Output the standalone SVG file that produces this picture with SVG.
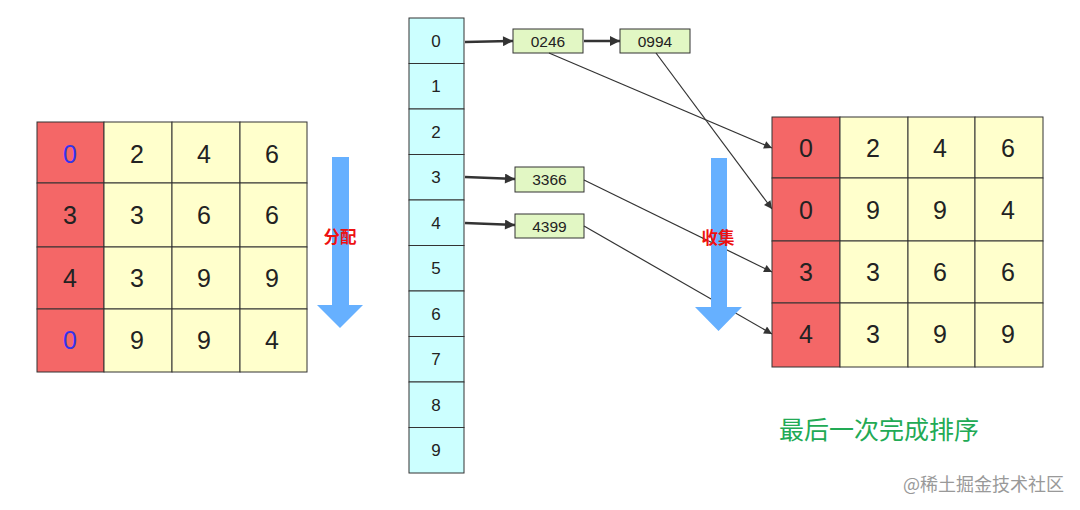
<svg xmlns="http://www.w3.org/2000/svg" width="1080" height="510" viewBox="0 0 1080 510">
<style>
.r{fill:#f46767;stroke:#333;stroke-width:1}
.y{fill:#ffffcc;stroke:#333;stroke-width:1}
.c{fill:#ccffff;stroke:#333;stroke-width:1}
.g{fill:#e2f7c4;stroke:#333;stroke-width:1}
.d{font-family:"Liberation Sans",Arial,sans-serif;font-size:25px;fill:#222;text-anchor:middle;dominant-baseline:central}
.b{font-family:"Liberation Sans",Arial,sans-serif;font-size:17px;fill:#222;text-anchor:middle;dominant-baseline:central}
.s{font-family:"Liberation Sans",Arial,sans-serif;font-size:15.5px;fill:#222;text-anchor:middle;dominant-baseline:central}
.blue{fill:#3333ee}
.lbl{font-family:"Noto Sans CJK SC",sans-serif;font-size:16.5px;font-weight:bold;fill:#ee1111;text-anchor:middle;dominant-baseline:central}
.ln{stroke:#333;stroke-width:1.2;fill:none}
.th{stroke:#333;stroke-width:2.5;fill:none}
</style>
<defs>
<marker id="ahb" viewBox="0 0 10 10" refX="10" refY="5" markerWidth="16" markerHeight="10" markerUnits="userSpaceOnUse" orient="auto"><path d="M0,0 L10,5 L0,10 z" fill="#333"/></marker>
<marker id="ahs" viewBox="0 0 10 10" refX="10" refY="5" markerWidth="12" markerHeight="8" markerUnits="userSpaceOnUse" orient="auto"><path d="M0,0 L10,5 L0,10 z" fill="#333"/></marker>
</defs>
<rect width="1080" height="510" fill="#fff"/>

<g id="left-grid">
<rect class="r" x="37" y="122" width="67" height="61"/><rect class="y" x="104" y="122" width="68" height="61"/><rect class="y" x="172" y="122" width="68" height="61"/><rect class="y" x="240" y="122" width="67" height="61"/>
<rect class="r" x="37" y="183" width="67" height="64"/><rect class="y" x="104" y="183" width="68" height="64"/><rect class="y" x="172" y="183" width="68" height="64"/><rect class="y" x="240" y="183" width="67" height="64"/>
<rect class="r" x="37" y="247" width="67" height="62"/><rect class="y" x="104" y="247" width="68" height="62"/><rect class="y" x="172" y="247" width="68" height="62"/><rect class="y" x="240" y="247" width="67" height="62"/>
<rect class="r" x="37" y="309" width="67" height="63"/><rect class="y" x="104" y="309" width="68" height="63"/><rect class="y" x="172" y="309" width="68" height="63"/><rect class="y" x="240" y="309" width="67" height="63"/>
<text class="d blue" x="70" y="154">0</text><text class="d" x="137" y="154">2</text><text class="d" x="204" y="154">4</text><text class="d" x="272" y="154">6</text>
<text class="d" x="70" y="215">3</text><text class="d" x="137" y="215">3</text><text class="d" x="204" y="215">6</text><text class="d" x="272" y="215">6</text>
<text class="d" x="70" y="278">4</text><text class="d" x="137" y="278">3</text><text class="d" x="204" y="278">9</text><text class="d" x="272" y="278">9</text>
<text class="d blue" x="70" y="340">0</text><text class="d" x="137" y="340">9</text><text class="d" x="204" y="340">9</text><text class="d" x="272" y="340">4</text>
</g>

<g id="arrow-distribute">
<path d="M332,157 H349 V305 H363 L340,328 L317,305 H332 Z" fill="#66b0ff"/>
<text class="lbl" x="340" y="236">分配</text>
</g>

<g id="buckets">
<rect class="c" x="409" y="18" width="55" height="45.5"/>
<rect class="c" x="409" y="63.5" width="55" height="45.5"/>
<rect class="c" x="409" y="109" width="55" height="45.5"/>
<rect class="c" x="409" y="154.5" width="55" height="45.5"/>
<rect class="c" x="409" y="200" width="55" height="45.5"/>
<rect class="c" x="409" y="245.5" width="55" height="45.5"/>
<rect class="c" x="409" y="291" width="55" height="45.5"/>
<rect class="c" x="409" y="336.5" width="55" height="45.5"/>
<rect class="c" x="409" y="382" width="55" height="45.5"/>
<rect class="c" x="409" y="427.5" width="55" height="45.5"/>
<text class="b" x="436" y="41">0</text>
<text class="b" x="436" y="86">1</text>
<text class="b" x="436" y="132">2</text>
<text class="b" x="436" y="177">3</text>
<text class="b" x="436" y="223">4</text>
<text class="b" x="436" y="268">5</text>
<text class="b" x="436" y="314">6</text>
<text class="b" x="436" y="359">7</text>
<text class="b" x="436" y="405">8</text>
<text class="b" x="436" y="450">9</text>
</g>

<g id="box-0246"><rect class="g" x="513" y="29" width="70" height="24"/><text class="s" x="548" y="41">0246</text></g>
<g id="box-0994"><rect class="g" x="620" y="29" width="70" height="24"/><text class="s" x="655" y="41">0994</text></g>
<g id="box-3366"><rect class="g" x="515" y="167" width="69" height="25"/><text class="s" x="549.5" y="179.5">3366</text></g>
<g id="box-4399"><rect class="g" x="515" y="214" width="69" height="24"/><text class="s" x="549.5" y="226">4399</text></g>

<g id="connectors">
<line class="th" x1="465" y1="42" x2="513" y2="41" marker-end="url(#ahb)"/>
<line class="th" x1="584" y1="41" x2="620" y2="41" marker-end="url(#ahb)"/>
<line class="th" x1="465" y1="177" x2="515" y2="179" marker-end="url(#ahb)"/>
<line class="th" x1="465" y1="223" x2="515" y2="225" marker-end="url(#ahb)"/>
<line class="ln" x1="549" y1="53" x2="772" y2="148" marker-end="url(#ahs)"/>
<line class="ln" x1="656" y1="53" x2="772" y2="209" marker-end="url(#ahs)"/>
<line class="ln" x1="584" y1="180" x2="772" y2="272" marker-end="url(#ahs)"/>
<line class="ln" x1="584" y1="226" x2="772" y2="334" marker-end="url(#ahs)"/>
</g>

<g id="arrow-collect">
<path d="M711,158 H727 V307 H742 L718.5,331 L695,307 H711 Z" fill="#66b0ff"/>
<text class="lbl" x="718" y="237">收集</text>
</g>

<g id="right-grid">
<rect class="r" x="772" y="117" width="68" height="61"/><rect class="y" x="840" y="117" width="68" height="61"/><rect class="y" x="908" y="117" width="67" height="61"/><rect class="y" x="975" y="117" width="68" height="61"/>
<rect class="r" x="772" y="178" width="68" height="63"/><rect class="y" x="840" y="178" width="68" height="63"/><rect class="y" x="908" y="178" width="67" height="63"/><rect class="y" x="975" y="178" width="68" height="63"/>
<rect class="r" x="772" y="241" width="68" height="62"/><rect class="y" x="840" y="241" width="68" height="62"/><rect class="y" x="908" y="241" width="67" height="62"/><rect class="y" x="975" y="241" width="68" height="62"/>
<rect class="r" x="772" y="303" width="68" height="64"/><rect class="y" x="840" y="303" width="68" height="64"/><rect class="y" x="908" y="303" width="67" height="64"/><rect class="y" x="975" y="303" width="68" height="64"/>
<text class="d" x="806" y="148">0</text><text class="d" x="873" y="148">2</text><text class="d" x="940" y="148">4</text><text class="d" x="1008" y="148">6</text>
<text class="d" x="806" y="210">0</text><text class="d" x="873" y="210">9</text><text class="d" x="940" y="210">9</text><text class="d" x="1008" y="210">4</text>
<text class="d" x="806" y="272">3</text><text class="d" x="873" y="272">3</text><text class="d" x="940" y="272">6</text><text class="d" x="1008" y="272">6</text>
<text class="d" x="806" y="334">4</text><text class="d" x="873" y="334">3</text><text class="d" x="940" y="334">9</text><text class="d" x="1008" y="334">9</text>
</g>

<text x="779" y="439" font-family="'Noto Sans CJK SC',sans-serif" font-size="25" fill="#22aa55">最后一次完成排序</text>
<text x="903" y="491" font-family="'Noto Sans CJK SC',sans-serif" font-size="18" fill="#999">@稀土掘金技术社区</text>
</svg>
